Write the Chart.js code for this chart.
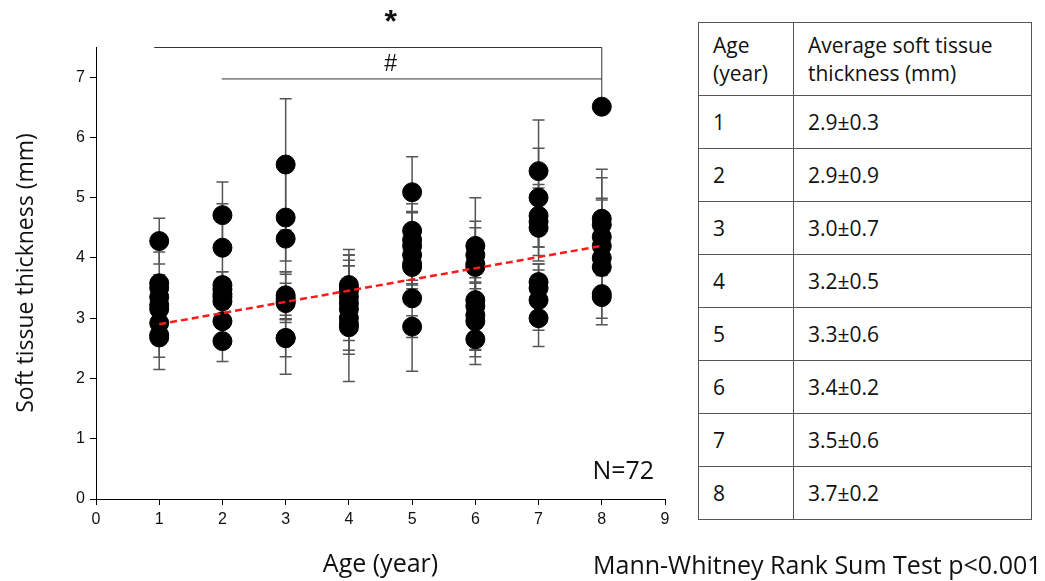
<!DOCTYPE html>
<html>
<head>
<meta charset="utf-8">
<script src="https://cdn.jsdelivr.net/npm/chart.js@4.4.1/dist/chart.umd.min.js"></script>
<style>
  body { margin: 0; background: #fff; width: 1045px; height: 581px; overflow: hidden; position: relative; font-family: "Open Sans", sans-serif; }
  #wrap { position: absolute; left: 0; top: 0; width: 690px; height: 581px; }
  #avgTable { position: absolute; left: 698px; top: 22px; width: 334px; border-collapse: collapse; font-size: 21px; color: #111; }
  #avgTable td { border: 1.5px solid #555; padding: 0 0 0 14px; vertical-align: middle; line-height: 28px; }
  #avgTable td:first-child { width: 80px; }
  #avgTable tr.head { height: 73px; }
  #avgTable tr.row { height: 53px; }
  #note { position: absolute; left: 593px; top: 547px; font-size: 25px; color: #111; white-space: nowrap; }
</style>
</head>
<body>
<div id="wrap"><canvas id="ageChart" width="690" height="581"></canvas></div>
<table id="avgTable"></table>
<div id="note">Mann-Whitney Rank Sum Test p&lt;0.001</div>
<script>
// each subject: [thickness, sd]
const age1 = [[4.28, 0.38], [3.58, 0.52], [3.50, 0.22], [3.35, 0.20], [3.22, 0.35], [3.15, 0.25], [2.92, 0.20], [2.72, 0.57], [2.68, 0.33]];
const age2 = [[4.71, 0.55], [4.17, 0.73], [3.55, 0.22], [3.48, 0.29], [3.40, 0.15], [3.35, 0.20], [3.28, 0.25], [2.95, 0.40], [2.62, 0.34]];
const age3 = [[5.55, 1.09], [4.67, 0.90], [4.32, 0.37], [3.38, 0.39], [3.33, 0.40], [3.28, 0.30], [3.25, 0.20], [2.67, 0.31], [2.67, 0.60]];
const age4 = [[3.55, 0.59], [3.50, 0.55], [3.45, 0.51], [3.35, 0.52], [3.25, 0.62], [3.15, 0.30], [3.00, 1.05], [2.90, 0.50], [2.85, 0.38]];
const age5 = [[5.09, 0.59], [4.45, 0.45], [4.30, 0.45], [4.20, 0.57], [4.05, 0.48], [3.90, 0.41], [3.85, 0.30], [3.33, 1.21], [2.86, 0.18]];
const age6 = [[4.20, 0.80], [4.05, 0.56], [3.90, 0.60], [3.85, 0.27], [3.30, 0.30], [3.20, 0.72], [3.05, 0.69], [2.95, 0.72], [2.65, 0.18]];
const age7 = [[5.44, 0.85], [5.00, 0.82], [4.70, 0.52], [4.60, 0.56], [4.50, 0.55], [3.60, 0.30], [3.50, 0.40], [3.30, 0.50], [3.00, 0.47]];
const age8 = [[6.51, 0.10], [4.65, 0.82], [4.55, 0.78], [4.35, 0.64], [4.20, 0.76], [4.00, 0.50], [3.85, 0.60], [3.40, 0.40], [3.35, 0.46]];

const ages = [1, 2, 3, 4, 5, 6, 7, 8];
const subjects = [age1, age2, age3, age4, age5, age6, age7, age8];

// fitted line
const trendAges = [1, 8];
const trendValues = [2.9, 4.2];

// table on the right
const tableAges = ['1', '2', '3', '4', '5', '6', '7', '8'];
const tableAverages = ['2.9±0.3', '2.9±0.9', '3.0±0.7', '3.2±0.5', '3.3±0.6', '3.4±0.2', '3.5±0.6', '3.7±0.2'];

// build the table
const tbl = document.getElementById('avgTable');
tbl.innerHTML = '<tr class="head"><td>Age<br>(year)</td><td>Average soft tissue<br>thickness (mm)</td></tr>' +
  tableAges.map((a, i) => `<tr class="row"><td>${a}</td><td>${tableAverages[i]}</td></tr>`).join('');

const scatterPoints = [];
subjects.forEach((list, i) => list.forEach(s => scatterPoints.push({ x: ages[i], y: s[0] })));

// error bars + significance brackets, drawn under the dots
const errorBars = {
  id: 'errorBars',
  beforeDatasetsDraw(chart) {
    const { ctx, scales: { x, y } } = chart;
    ctx.save();
    ctx.strokeStyle = '#555';
    ctx.lineWidth = 1.5;
    subjects.forEach((list, i) => {
      const px = x.getPixelForValue(ages[i]);
      list.forEach(([v, sd]) => {
        const top = y.getPixelForValue(v + sd);
        const bot = y.getPixelForValue(v - sd);
        ctx.beginPath();
        ctx.moveTo(px, top); ctx.lineTo(px, bot);
        ctx.moveTo(px - 6, top); ctx.lineTo(px + 6, top);
        ctx.moveTo(px - 6, bot); ctx.lineTo(px + 6, bot);
        ctx.stroke();
      });
    });

    // brackets
    const x8 = x.getPixelForValue(8);
    ctx.strokeStyle = '#333';
    ctx.lineWidth = 1;
    ctx.beginPath();
    ctx.moveTo(x.getPixelForValue(0.92), y.getPixelForValue(7.5) + 0.5);
    ctx.lineTo(x8, y.getPixelForValue(7.5) + 0.5);
    ctx.lineTo(x8, y.getPixelForValue(6.51));
    ctx.moveTo(x.getPixelForValue(1.99), y.getPixelForValue(6.97));
    ctx.lineTo(x8, y.getPixelForValue(6.97));
    ctx.stroke();
    ctx.restore();
  },
  afterDraw(chart) {
    const { ctx, scales: { x, y } } = chart;
    ctx.save();
    ctx.fillStyle = '#111';
    ctx.textAlign = 'center';
    ctx.textBaseline = 'middle';
    ctx.font = 'bold 32px "Liberation Sans"';
    ctx.fillText('*', x.getPixelForValue(4.66), 23);
    ctx.font = '23px "Liberation Sans"';
    ctx.fillText('#', x.getPixelForValue(4.66), y.getPixelForValue(7.2));
    ctx.font = '25px "Open Sans"';
    ctx.fillText('N=72', x.getPixelForValue(8.34), y.getPixelForValue(0.45));
    ctx.restore();
  }
};

const tickFont = { family: 'Liberation Sans', size: 16 };

new Chart(document.getElementById('ageChart'), {
  type: 'scatter',
  data: {
    datasets: [
      {
        type: 'line',
        data: trendAges.map((a, i) => ({ x: a, y: trendValues[i] })),
        borderColor: '#ff1a1a',
        borderWidth: 2.5,
        borderDash: [7, 4],
        pointRadius: 0,
        fill: false
      },
      {
        data: scatterPoints,
        backgroundColor: '#000',
        borderColor: '#000',
        pointRadius: 9.5,
        pointHoverRadius: 9.5
      }
    ]
  },
  options: {
    responsive: false,
    animation: false,
    devicePixelRatio: 1,
    layout: { padding: { top: 47, right: 25, left: 0, bottom: 0 } },
    plugins: { legend: { display: false }, tooltip: { enabled: false } },
    scales: {
      x: {
        type: 'linear',
        min: 0, max: 9,
        ticks: { stepSize: 1, font: tickFont, color: '#111', padding: 5 },
        grid: { drawOnChartArea: false, color: '#000', tickLength: 6 },
        border: { color: '#000', width: 1 },
        title: { display: true, text: 'Age (year)', font: { family: 'Open Sans', size: 25 }, color: '#111', padding: { top: 0, bottom: 1 } },
        afterFit(scale) { scale.height = 82; }
      },
      y: {
        min: 0, max: 7.5,
        ticks: { stepSize: 1, font: tickFont, color: '#111', padding: 5 },
        afterBuildTicks(scale) { scale.ticks = scale.ticks.filter(t => Number.isInteger(t.value)); },
        grid: { drawOnChartArea: false, color: '#000', tickLength: 6 },
        border: { color: '#000', width: 1 },
        title: { display: true, text: 'Soft tissue thickness (mm)', font: { family: 'Open Sans', size: 23 }, color: '#111', padding: { top: 13, bottom: 0 } },
        afterFit(scale) { scale.width = 96; }
      }
    }
  },
  plugins: [errorBars]
});
</script>
</body>
</html>
